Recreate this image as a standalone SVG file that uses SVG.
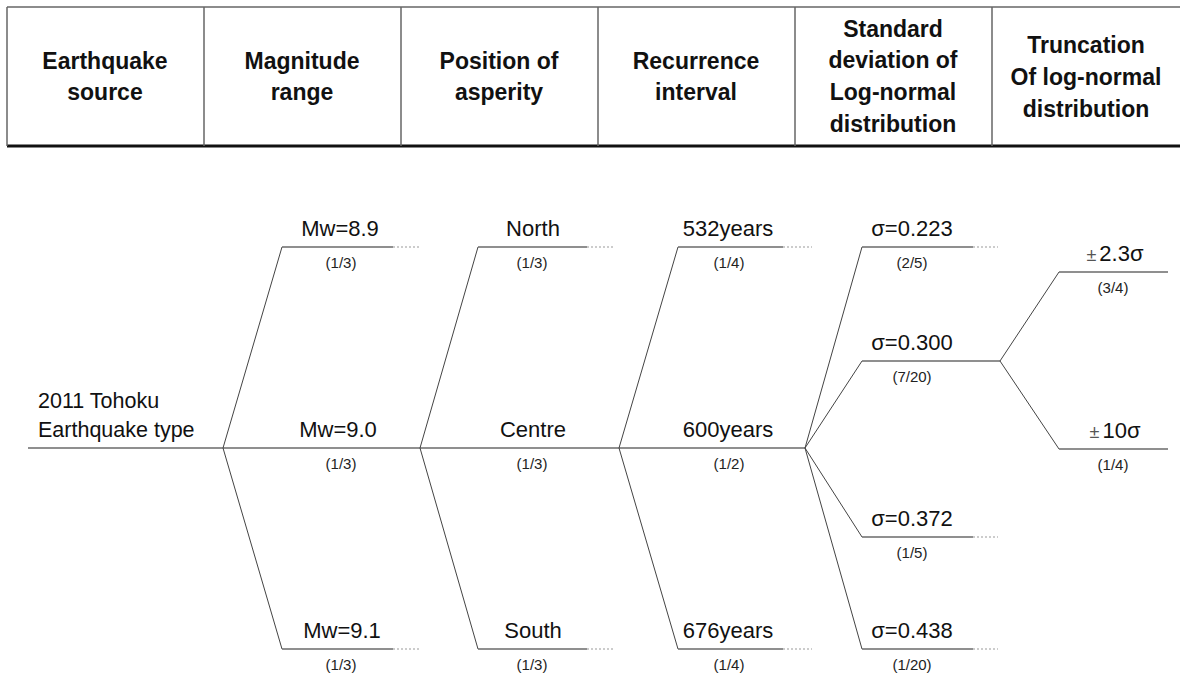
<svg xmlns="http://www.w3.org/2000/svg" width="1180" height="674" viewBox="0 0 1180 674">
<defs>
<style>
.hd{font-family:"Liberation Sans",Arial,sans-serif;font-weight:bold;font-size:23px;fill:#111;text-anchor:middle}
.lb{font-family:"Liberation Sans",Arial,sans-serif;font-size:22px;fill:#111;text-anchor:middle}
.rt{font-family:"Liberation Sans",Arial,sans-serif;font-size:21.5px;fill:#111}
.fr{font-family:"Liberation Sans",Arial,sans-serif;font-size:15px;fill:#222;text-anchor:middle}
.pm{font-size:18px;fill:#555}
.sl{stroke:#444;stroke-width:1;fill:none}
.hz{stroke:#6a6a6a;stroke-width:1.4;fill:none}
.dt{stroke:#999;stroke-width:1.2;stroke-dasharray:2 2;fill:none}
.grid{stroke:#666;stroke-width:1.5;fill:none}
</style>
</defs>
<rect width="1180" height="674" fill="#fff"/>
<g id="header">
<line class="grid" x1="7" y1="7" x2="1180" y2="7" stroke-width="1.2"/>
<line x1="7" y1="146" x2="1180" y2="146" stroke="#111" stroke-width="3"/>
<line class="grid" x1="7" y1="7" x2="7" y2="146"/>
<line class="grid" x1="204" y1="7" x2="204" y2="146"/>
<line class="grid" x1="401" y1="7" x2="401" y2="146"/>
<line class="grid" x1="598" y1="7" x2="598" y2="146"/>
<line class="grid" x1="795" y1="7" x2="795" y2="146"/>
<line class="grid" x1="992" y1="7" x2="992" y2="146"/>
<text class="hd" x="105" y="69">Earthquake</text><text class="hd" x="105" y="100">source</text>
<text class="hd" x="302" y="69">Magnitude</text><text class="hd" x="302" y="100">range</text>
<text class="hd" x="499" y="69">Position of</text><text class="hd" x="499" y="100">asperity</text>
<text class="hd" x="696" y="69">Recurrence</text><text class="hd" x="696" y="100">interval</text>
<text class="hd" x="893" y="37">Standard</text><text class="hd" x="893" y="68">deviation of</text><text class="hd" x="893" y="100">Log-normal</text><text class="hd" x="893" y="132">distribution</text>
<text class="hd" x="1086" y="53">Truncation</text><text class="hd" x="1086" y="85">Of log-normal</text><text class="hd" x="1086" y="117">distribution</text>
</g>
<g id="connectors">
<line class="hz" x1="28" y1="448" x2="805" y2="448"/>
<line class="sl" x1="223" y1="448" x2="282" y2="247"/>
<line class="sl" x1="223" y1="448" x2="282" y2="649"/>
<line class="hz" x1="282" y1="247" x2="393" y2="247"/><line class="dt" x1="393" y1="247" x2="420" y2="247"/>
<line class="hz" x1="282" y1="649" x2="393" y2="649"/><line class="dt" x1="393" y1="649" x2="420" y2="649"/>
<line class="sl" x1="420" y1="448" x2="478" y2="247"/>
<line class="sl" x1="420" y1="448" x2="478" y2="649"/>
<line class="hz" x1="478" y1="247" x2="587" y2="247"/><line class="dt" x1="587" y1="247" x2="613" y2="247"/>
<line class="hz" x1="478" y1="649" x2="587" y2="649"/><line class="dt" x1="587" y1="649" x2="613" y2="649"/>
<line class="sl" x1="619" y1="448" x2="678" y2="247"/>
<line class="sl" x1="619" y1="448" x2="678" y2="649"/>
<line class="hz" x1="678" y1="247" x2="783" y2="247"/><line class="dt" x1="783" y1="247" x2="812" y2="247"/>
<line class="hz" x1="678" y1="649" x2="783" y2="649"/><line class="dt" x1="783" y1="649" x2="812" y2="649"/>
<line class="sl" x1="805" y1="448" x2="862" y2="247"/>
<line class="sl" x1="805" y1="448" x2="862" y2="361"/>
<line class="sl" x1="805" y1="448" x2="862" y2="537"/>
<line class="sl" x1="805" y1="448" x2="862" y2="649"/>
<line class="hz" x1="862" y1="247" x2="973" y2="247"/><line class="dt" x1="973" y1="247" x2="998" y2="247"/>
<line class="hz" x1="862" y1="361" x2="1000" y2="361"/>
<line class="hz" x1="862" y1="537" x2="973" y2="537"/><line class="dt" x1="973" y1="537" x2="998" y2="537"/>
<line class="hz" x1="862" y1="649" x2="973" y2="649"/><line class="dt" x1="973" y1="649" x2="998" y2="649"/>
<line class="sl" x1="1000" y1="361" x2="1059" y2="272"/>
<line class="sl" x1="1000" y1="361" x2="1059" y2="449"/>
<line class="hz" x1="1059" y1="272" x2="1168" y2="272"/>
<line class="hz" x1="1059" y1="449" x2="1168" y2="449"/>
</g>
<g id="root"><text class="rt" x="38" y="408">2011 Tohoku</text><text class="rt" x="38" y="437">Earthquake type</text></g>
<g id="mw89"><text class="lb" x="340" y="236">Mw=8.9</text><text class="fr" x="341" y="268">(1/3)</text></g>
<g id="mw90"><text class="lb" x="338" y="437">Mw=9.0</text><text class="fr" x="341" y="469">(1/3)</text></g>
<g id="mw91"><text class="lb" x="342" y="638">Mw=9.1</text><text class="fr" x="341" y="670">(1/3)</text></g>
<g id="north"><text class="lb" x="533" y="236">North</text><text class="fr" x="532" y="268">(1/3)</text></g>
<g id="centre"><text class="lb" x="533" y="437">Centre</text><text class="fr" x="532" y="469">(1/3)</text></g>
<g id="south"><text class="lb" x="533" y="638">South</text><text class="fr" x="532" y="670">(1/3)</text></g>
<g id="y532"><text class="lb" x="728" y="236">532years</text><text class="fr" x="729" y="268">(1/4)</text></g>
<g id="y600"><text class="lb" x="728" y="437">600years</text><text class="fr" x="729" y="469">(1/2)</text></g>
<g id="y676"><text class="lb" x="728" y="638">676years</text><text class="fr" x="729" y="670">(1/4)</text></g>
<g id="s223"><text class="lb" x="912" y="236">σ=0.223</text><text class="fr" x="912" y="268">(2/5)</text></g>
<g id="s300"><text class="lb" x="912" y="350">σ=0.300</text><text class="fr" x="912" y="382">(7/20)</text></g>
<g id="s372"><text class="lb" x="912" y="526">σ=0.372</text><text class="fr" x="912" y="558">(1/5)</text></g>
<g id="s438"><text class="lb" x="912" y="638">σ=0.438</text><text class="fr" x="912" y="670">(1/20)</text></g>
<g id="t23"><text class="lb" x="1115" y="261"><tspan class="pm">±</tspan><tspan dx="3">2.3σ</tspan></text><text class="fr" x="1113" y="293">(3/4)</text></g>
<g id="t10"><text class="lb" x="1115" y="438"><tspan class="pm">±</tspan><tspan dx="3">10σ</tspan></text><text class="fr" x="1113" y="470">(1/4)</text></g>
</svg>
